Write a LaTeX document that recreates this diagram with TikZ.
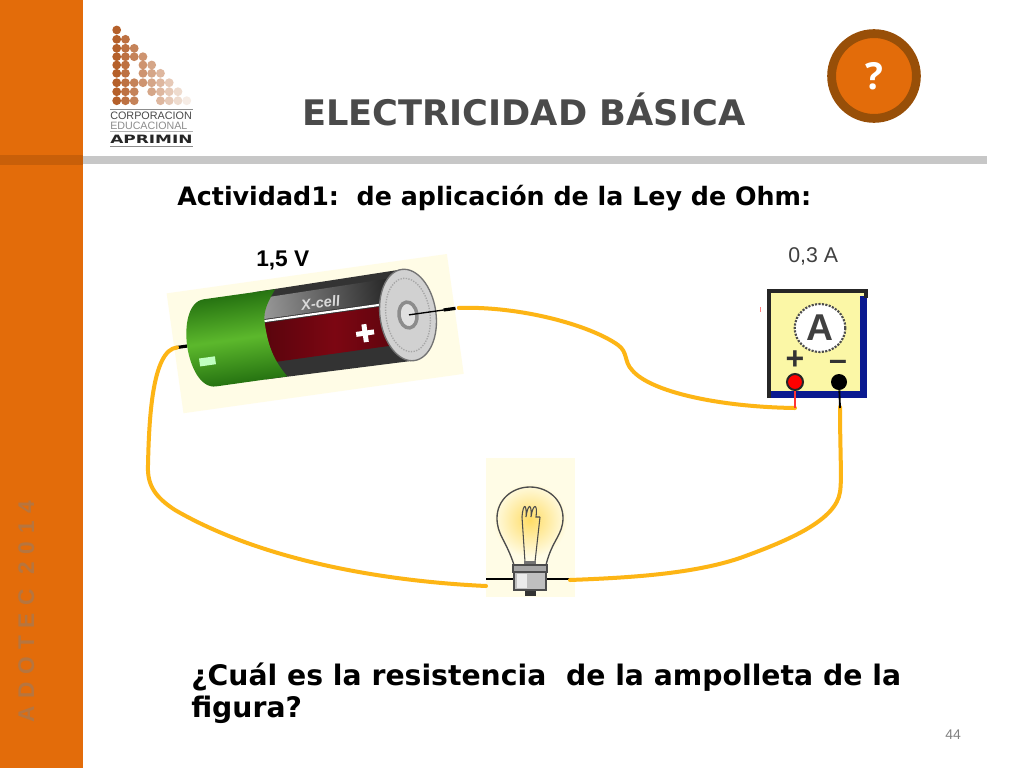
\documentclass[tikz,border=0pt]{standalone}
\usepackage{fontspec}
\setmainfont{DejaVu Sans}
\newfontfamily\arialfont{Liberation Sans}
\newfontfamily\openfont{Open Sans}
\usetikzlibrary{positioning,shapes.geometric}
\definecolor{barorange}{HTML}{E36C0A}
\definecolor{ringbrown}{HTML}{984F08}
\definecolor{logobrown}{HTML}{B5602A}
\definecolor{wireyellow}{HTML}{FDB515}
\definecolor{titlegray}{HTML}{4A4A4A}
\definecolor{palepaper}{HTML}{FFFCE6}
\definecolor{metergold}{HTML}{FBF7A6}
\definecolor{meterblue}{HTML}{0A1A90}
\definecolor{cellgreen}{HTML}{5CB82C}
\definecolor{celldark}{HTML}{1F6A0E}
\definecolor{cellred}{HTML}{7C0612}
\tikzset{
    wire/.style={draw=wireyellow,line width=3pt,line cap=round},
    lead/.style={draw=black,line width=1pt},
    txt/.style={inner sep=0pt,anchor=base west,text=black},
    logotxt/.style={inner sep=0pt,anchor=base west,text=titlegray},
    term/.style={circle,inner sep=0pt,minimum size=12pt},
}
\begin{document}
\begin{tikzpicture}[x=0.75pt,y=-0.75pt]
    \useasboundingbox (0,0) rectangle (1024,768);
    \fill[white] (0,0) rectangle (1024,768);
    \fill[barorange] (0,0) rectangle (83,768);
    \fill[barorange!88!black] (0,155) rectangle (83,165);
    \fill[black!22] (83,156) rectangle (987,164);
    \node[rotate=90,inner sep=0pt,anchor=base west,text=barorange!55!gray,font=\arialfont\bfseries\fontsize{17}{17}\selectfont] (sidetext) at (34,723) {A\,\,D\,\,O\,\,T\,\,E\,\,C\,\,\,\,2\,\,0\,\,1\,\,4};

    \foreach \ypos/\cols in {30/{1},39.3/{1,2},48.3/{1,2,3},56.7/{1,2,3,4},65/{1,2,4,5},73.3/{1,2,4,5,6},82.7/{1,2,3,4,5,6,7},91.7/{1,2,3,5,6,7,8},100.7/{1,2,3,6,7,8,9}}{
        \foreach \col in \cols {
            \pgfmathsetmacro\fade{100-11*(\col-1)}
            \fill[logobrown!\fade!white] ({116.7+8.75*(\col-1)},\ypos) circle (3.3pt);
        }
    }
    \draw[black!45,line width=.5pt] (110,109) -- (193,109);
    \draw[black!45,line width=.5pt] (110,146) -- (193,146);
    \draw[black!30,line width=.5pt] (110,131) -- (193,131);
    \node[logotxt,font=\arialfont\fontsize{8.1}{8}\selectfont] (logoa) at (110,119) {CORPORACION};
    \node[logotxt,text=black!45,font=\arialfont\fontsize{8}{8}\selectfont] (logob) at (110,129) {EDUCACIONAL};
    \node[logotxt,text=black!85,font=\bfseries\fontsize{8.6}{10}\selectfont] (logoc) at (110,143) {\scalebox{1.48}[1]{APRIMIN}};

    \node[txt,text=titlegray,font=\bfseries\fontsize{26.4}{26}\selectfont] (title) at (302,125) {ELECTRICIDAD BÁSICA};
    \node[circle,fill=barorange,draw=ringbrown,line width=6.6pt,minimum size=63.6pt,inner sep=0pt,text=white,font=\openfont\bfseries\fontsize{28}{28}\selectfont] (help) at (874,76) {?};

    \node[txt,font=\bfseries\fontsize{19}{19}\selectfont] (activity) at (177,205) {Actividad1:\ \ de aplicación de la Ley de Ohm:};
    \node[txt,font=\arialfont\bfseries\fontsize{17}{17}\selectfont] (volt) at (256,266) {1,5 V};
    \node[txt,text=black!75,font=\arialfont\fontsize{16}{16}\selectfont] (amp) at (788,262) {0,3 A};

    \begin{scope}[shift={(408,315)},rotate=8]
        \fill[palepaper] (-236,-55) rectangle (47,66);
        \coordinate (batNeg) at (-233,0);
        \coordinate (batPos) at (51,0);
        \draw[lead,line width=2.4pt] (-236,0) -- (-223,0);
        \fill[black!80] (-150,-44) -- (0,-46) -- (0,46) -- (-150,44) -- cycle;
        \shade[left color=black!40,right color=black!88,shading angle=98] (-150,-37) -- (0,-39) -- (0,-16) -- (-150,-16) -- cycle;
        \shade[left color=cellred!70!black,right color=cellred!70!black,middle color=cellred] (-150,-12) -- (0,-12) -- (0,28) -- (-150,28) -- cycle;
        \draw[white,line width=1.6pt] (-150,-14) -- (0,-14);
        \shade[top color=celldark,bottom color=celldark,middle color=cellgreen,shading angle=8]
            (-128,-44) -- (-200,-44) .. controls (-216,-44) and (-223,-20) .. (-223,0)
            .. controls (-223,20) and (-216,44) .. (-200,44) -- (-128,44)
            .. controls (-140,25) and (-143,10) .. (-143,-13) .. controls (-143,-25) and (-135,-35) .. (-128,-44) -- cycle;
        \fill[white] (-45,12) +(-9,-2.5) rectangle +(9,2.5) +(-2.5,-9) rectangle +(2.5,9);
        \fill[green!25!white] (-213,14) rectangle (-197,22);
        \node[inner sep=0pt,text=black!15,rotate=8,font=\arialfont\bfseries\itshape\fontsize{11}{11}\selectfont] (brand) at (-85,-24) {X-cell};
        \draw[black!55,fill=black!18,line width=1pt] (0,0) ellipse (28 and 46);
        \draw[black!35,densely dotted,line width=1pt] (0,0) ellipse (22 and 37);
        \draw[black!45,line width=2.6pt,fill=black!12] (0,0) ellipse (9 and 13);
        \draw[lead] (1,0) -- (42,0);
        \draw[lead,line width=2.4pt] (36,0) -- (48,0);
    \end{scope}
    \node[inner sep=0pt,minimum width=0pt] (batPosEnd) at (batPos) {};
    \node[inner sep=0pt,minimum width=0pt] (batNegEnd) at (batNeg) {};

    \fill[metergold] (769,291) rectangle (866,398);
    \fill[meterblue] (860,296) rectangle (867,398);
    \fill[meterblue] (769,391) rectangle (867,398);
    \draw[black!85,line width=2.4pt] (769,398) -- (769,291) -- (866,291) -- (866,298);
    \node[draw=black!70,densely dotted,line width=1.6pt,ellipse,fill=white,minimum width=38pt,minimum height=36pt,inner sep=0pt,font=\arialfont\bfseries\fontsize{28}{28}\selectfont,text=black!75] (meter) at (820,328) {A};
    \node[inner sep=0pt,font=\arialfont\bfseries\fontsize{24}{24}\selectfont,text=black!80] (plus) at (795,360) {+};
    \node[inner sep=0pt,font=\arialfont\bfseries\fontsize{24}{24}\selectfont,text=black!80] (minus) at (838,365) {\textendash};
    \node[term,fill=red,draw=black!85,line width=1.5pt] (ampPlus) at (795,382) {};
    \node[term,fill=black] (ampMinus) at (839,382) {};
    \coordinate (ampPlusEnd) at (795,408);
    \coordinate (ampMinusEnd) at (840,407);
    \fill[red!50] (759.5,307) rectangle (761,312);

    \fill[palepaper] (486,458) rectangle (575,597);
    \shade[inner color=yellow!55!orange!60!white,outer color=palepaper] (530,520) circle (28pt);
    \draw[black!70,line width=1pt] (514,565) .. controls (506,540) and (497,535) .. (497,518)
        .. controls (497,500) and (512,487) .. (530,487) .. controls (548,487) and (563,500) .. (563,518)
        .. controls (563,535) and (552,540) .. (546,565);
    \draw[black!70,line width=.8pt] (522,517) -- (525,562) -- (535,562) -- (540,517);
    \draw[black!70,line width=.8pt] (522,517) .. controls (523,503) and (527,503) .. (526,517)
        .. controls (528,503) and (532,503) .. (531,517) .. controls (533,503) and (538,503) .. (536,517) -- (540,517);
    \fill[black!55] (524,561) rectangle (536,565);
    \coordinate (bulbLeft) at (486,586);
    \coordinate (bulbRight) at (570,580);
    \draw[lead] (486,579) -- (514,579);
    \draw[lead] (546,579) -- (570,579);
    \fill[black!80] (525,588) rectangle (536,596);
    \draw[black!70,fill=black!25,line width=.8pt] (514,572) rectangle (546,590);
    \fill[black!8] (517,574) rectangle (527,588);
    \draw[black!70,fill=black!35,line width=.8pt] (513,565) rectangle (547,572);

    \draw[wire] (batPosEnd) .. controls (520,306) and (590,325) .. (618,345) .. controls (628,352) and (624,362) .. (632,370) .. controls (650,392) and (720,407) .. (ampPlusEnd);
    \draw[wire] (ampMinusEnd) .. controls (840,450) and (842,480) .. (840,492) .. controls (836,520) and (790,540) .. (740,558) .. controls (690,575) and (620,578) .. (bulbRight);
    \draw[wire] (bulbLeft) .. controls (400,582) and (270,565) .. (175,510) .. controls (155,497) and (147,485) .. (148,465) .. controls (149,420) and (152,350) .. (batNegEnd);
    \draw[red!80,line width=1.2pt] (ampPlus) -- (ampPlusEnd);
    \draw[lead,line width=1.4pt] (ampMinus) -- (840,408);

    \node[txt,font=\bfseries\fontsize{21.2}{24}\selectfont] (questa) at (191,685) {¿Cuál es la resistencia\ \ de la ampolleta de la};
    \node[txt,font=\bfseries\fontsize{21.2}{24}\selectfont] (questb) at (191,717) {figura?};
    \node[txt,text=black!50,font=\arialfont\fontsize{10.5}{11}\selectfont] (pagenum) at (945,739) {44};
\end{tikzpicture}
\end{document}
